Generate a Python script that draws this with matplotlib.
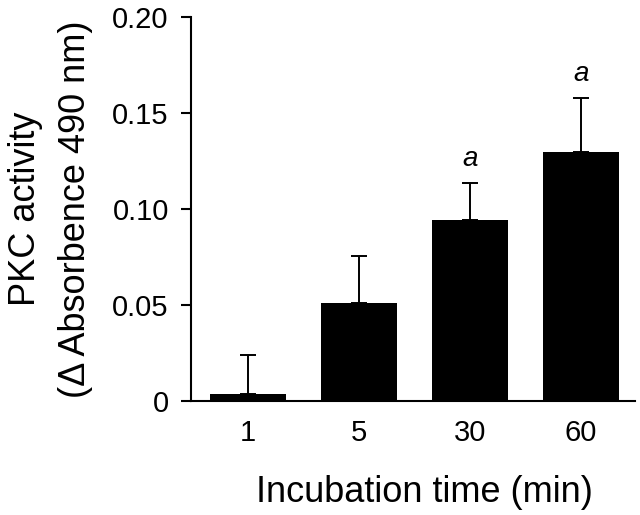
import matplotlib
matplotlib.use("Agg")
import matplotlib.pyplot as plt
import numpy as np

plt.rcParams['font.family'] = ['Liberation Sans', 'DejaVu Sans']

times = ["1", "5", "30", "60"]
pkc = [0.0037, 0.0513, 0.0942, 0.1298]
sem = [0.020, 0.024, 0.0194, 0.0278]
marks = ["", "", "a", "a"]

fig = plt.figure(figsize=(6.4, 5.15), dpi=100)
ax = fig.add_axes([191/640, 114/515, 444/640, 384/515])

x = np.arange(len(times))
ax.bar(x, pkc, width=0.69, color="black", zorder=2)
ax.errorbar(x, pkc, yerr=[np.zeros(len(sem)), sem], fmt="none",
            ecolor="black", elinewidth=1.4, capsize=5.5, capthick=1.4, zorder=1)

for xi, m, s, e in zip(x, marks, pkc, sem):
    if m:
        ax.annotate(m, (xi, s + e), xytext=(0, 8), textcoords="offset points",
                    ha="center", va="bottom", fontsize=20, style="italic")

ax.set_xlim(-0.514, 3.486)
ax.set_ylim(0, 0.20)
ax.set_yticks([0, 0.05, 0.10, 0.15, 0.20])
ax.set_yticklabels(["0", "0.05", "0.10", "0.15", "0.20"])
ax.set_xticks(x)
ax.set_xticklabels(times)

for side in ["top", "right"]:
    ax.spines[side].set_visible(False)
for side in ["left", "bottom"]:
    ax.spines[side].set_linewidth(1.5)

ax.tick_params(axis="y", length=7, width=1.5, pad=9, labelsize=21)
ax.tick_params(axis="x", length=0, pad=13, labelsize=21)

ax.set_xlabel("Incubation time (min)", fontsize=26, labelpad=20)
ax.xaxis.label.set_x(0.525)
ax.set_ylabel("PKC activity\n(\u0394 Absorbence 490 nm)", fontsize=26,
              labelpad=14, linespacing=1.55)

fig.savefig("out.png", dpi=100)
